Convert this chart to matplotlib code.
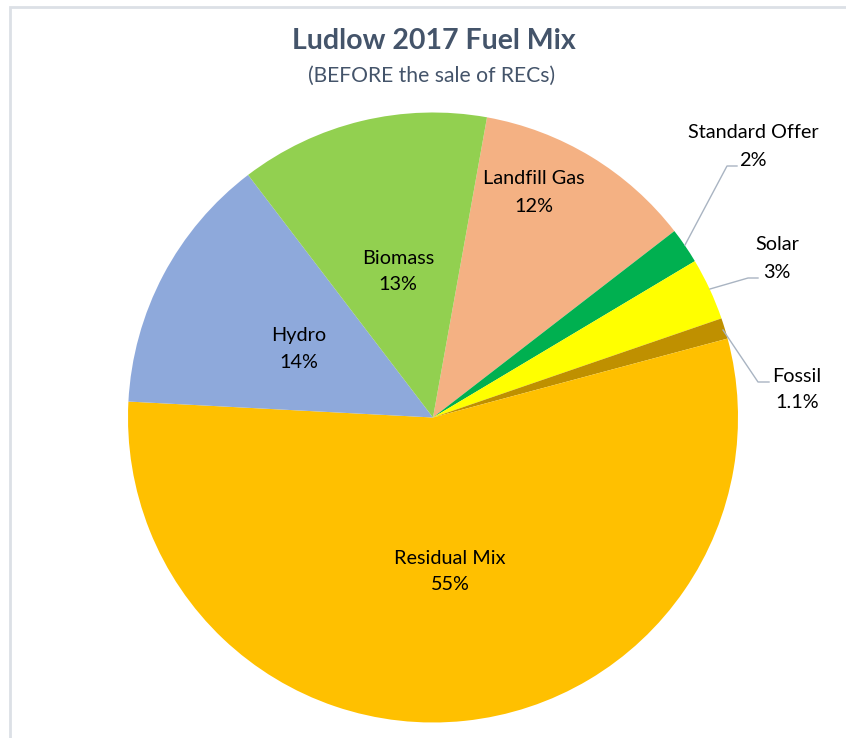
import matplotlib
matplotlib.use("Agg")
import matplotlib.pyplot as plt

# Fuel mix shares (%), clockwise from Landfill Gas
fuels = ["Landfill Gas", "Standard Offer", "Solar", "Fossil",
         "Residual Mix", "Hydro", "Biomass"]
shares = [11.7, 1.9, 3.3, 1.1, 55.0, 13.8, 13.2]
colors = ["#F4B183", "#00B050", "#FFFF00", "#BF9000",
          "#FFC000", "#8EA9DB", "#92D050"]


def pct_text(v):
    return f"{v:.1f}%" if v < 1.5 else f"{v:.0f}%"


W, H = 846, 738
plt.rcParams["font.family"] = ["Lato", "DejaVu Sans"]

fig = plt.figure(figsize=(W / 100, H / 100), dpi=100)
ax = fig.add_axes([0, 0, 1, 1])


# pixel coords (y measured from top) -> data coords
def P(x, y):
    return x, H - y


cx, cy = P(433, 417.5)
ax.pie(shares, colors=colors, startangle=79.8, counterclock=False,
       center=(cx, cy), radius=305, frame=True,
       wedgeprops=dict(linewidth=0))
ax.set_xlim(0, W)
ax.set_ylim(0, H)
ax.set_aspect("equal")
ax.axis("off")

# chart border (only top/left visible in the crop)
ax.plot([9.5, 9.5, W + 5], [-5, H - 6.5, H - 6.5], color="#DCE0E6", lw=2,
        solid_joinstyle="miter", clip_on=False)

# titles
ax.text(*P(434, 41), "Ludlow 2017 Fuel Mix", ha="center", va="center",
        fontsize=20.5, fontweight="bold", color="#44546A")
ax.text(*P(432, 76), "(BEFORE the sale of RECs)", ha="center", va="center",
        fontsize=15.2, color="#44546A")

# label positions: x centre, y of name line, y of percent line
label_pos = {
    "Landfill Gas": (534, 179, 206),
    "Standard Offer": (753, 132, 160),
    "Solar": (777, 245, 272),
    "Fossil": (797, 376, 403),
    "Residual Mix": (450, 558, 584),
    "Hydro": (299, 336, 362),
    "Biomass": (398, 259, 285),
}
for name, v in zip(fuels, shares):
    x, y1, y2 = label_pos[name]
    ax.text(*P(x, y1), name, ha="center", va="center",
            fontsize=14.3, color="black")
    ax.text(*P(x, y2), pct_text(v), ha="center", va="center",
            fontsize=14.3, color="black")

# leader lines for the thin slices
leader = "#A9B4C2"
leaders = [
    [(685, 245), (727, 166), (737, 166)],
    [(710, 289), (748, 278), (758, 278)],
    [(723, 330), (758, 382), (769, 382)],
]
for pts in leaders:
    xs = [p[0] for p in pts]
    ys = [H - p[1] for p in pts]
    ax.plot(xs, ys, color=leader, lw=1)

fig.savefig("out.png", dpi=100, facecolor="white")
